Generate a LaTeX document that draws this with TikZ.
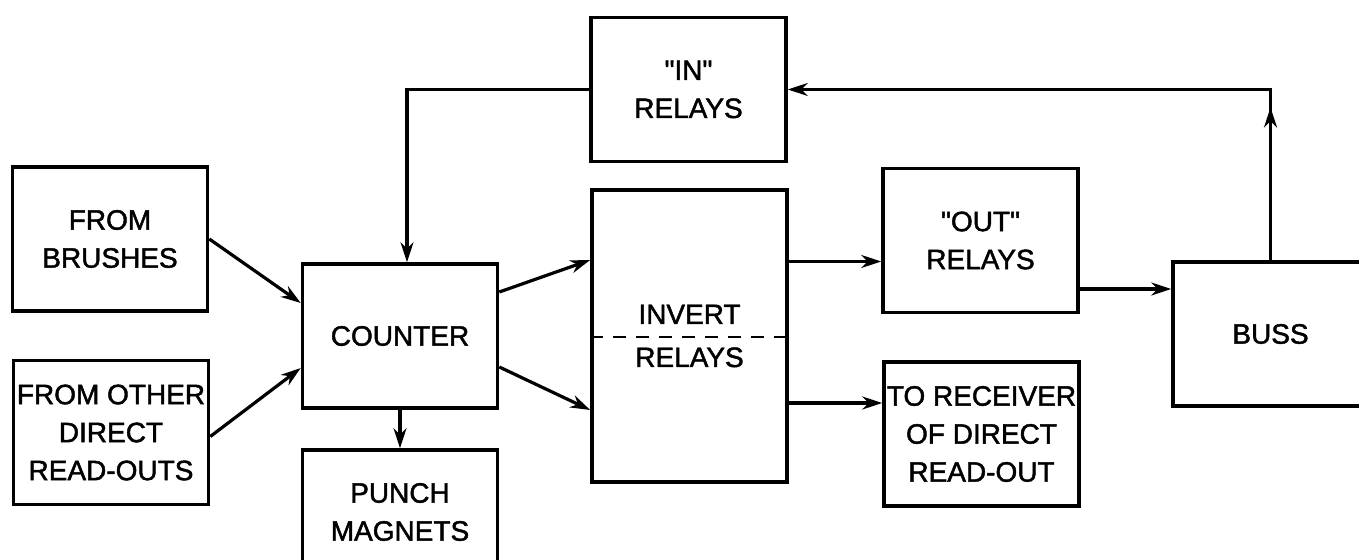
\documentclass[tikz,border=0pt]{standalone}
\usepackage{fontspec}
\setmainfont{Liberation Sans}[Ligatures=TeXOff, BoldFont=Liberation Sans, BoldFeatures={FakeBold=1.6}]
\usetikzlibrary{arrows.meta,calc}

\begin{document}
\begin{tikzpicture}[
    x=0.5pt, y=-0.5pt,
    box/.style={
        draw,
        line width=1.8pt,
        align=center,
        inner sep=1pt,
        minimum width=97.5pt,
        minimum height=72pt,
        font=\fontsize{14pt}{19pt}\selectfont\bfseries
    },
    tallbox/.style={
        box,
        minimum height=146pt,
        font=\fontsize{14pt}{21.5pt}\selectfont\bfseries
    },
    arrow/.style={-{Stealth[length=10pt,width=6.5pt]}, line width=1.6pt}
]
\useasboundingbox (0,0) rectangle (1359,560);
\clip (0,0) rectangle (1359,560);

\node[box] (inrel) at (688.5,89.5) {"IN"\\RELAYS};
\node[box] (brush) at (110,239) {FROM\\BRUSHES};
\node[box] (other) at (111,432.5) {FROM OTHER\\DIRECT\\READ-OUTS};
\node[box] (counter) at (400,336) {COUNTER};
\node[box, minimum height=62pt] (punch) at (400,512) {PUNCH\\MAGNETS};
\node[tallbox] (invert) at (689.5,336) {INVERT\\RELAYS};
\node[box] (outrel) at (980.5,240.5) {"OUT"\\RELAYS};
\node[box] (recv) at (981.5,434) {TO RECEIVER\\OF DIRECT\\READ-OUT};
\node[box] (buss) at (1270.5,334) {BUSS};

% split line through the invert relays
\draw[line width=1.4pt, dash pattern=on 6.5pt off 5pt] ($(invert.west)+(0,1)$) -- ($(invert.east)+(0,1)$);

\draw[arrow] (brush.east) -- ($(counter.west)+(0,-33)$);
\draw[arrow] ($(other.east)+(0,4)$) -- ($(counter.west)+(0,32)$);
\draw[arrow] ($(counter.east)+(0,-44)$) -- ($(invert.west)+(0,-76)$);
\draw[arrow] ($(counter.east)+(0,31)$) -- ($(invert.west)+(0,74)$);
\draw[arrow] (counter.south) -- (punch.north);

\coordinate (outin) at ($(outrel.west)+(0,21)$);
\coordinate (recvin) at ($(recv.west)+(0,-31)$);
\coordinate (bussin) at ($(buss.west)+(0,-45)$);
\draw[arrow] (invert.east |- outin) -- (outin);
\draw[arrow] (invert.east |- recvin) -- (recvin);
\draw[arrow] (outrel.east |- bussin) -- (bussin);

% feedback from the buss
\coordinate (bend) at (buss.north |- inrel.east);
\coordinate (bendtip) at ($(bend)+(0,18)$);
\draw[arrow] (buss.north) -- (bendtip);
\draw[arrow] (buss.north) -- (bend) -- (inrel.east);
\draw[arrow] (inrel.west) -| ($(counter.north)+(7,0)$);
\end{tikzpicture}
\end{document}
